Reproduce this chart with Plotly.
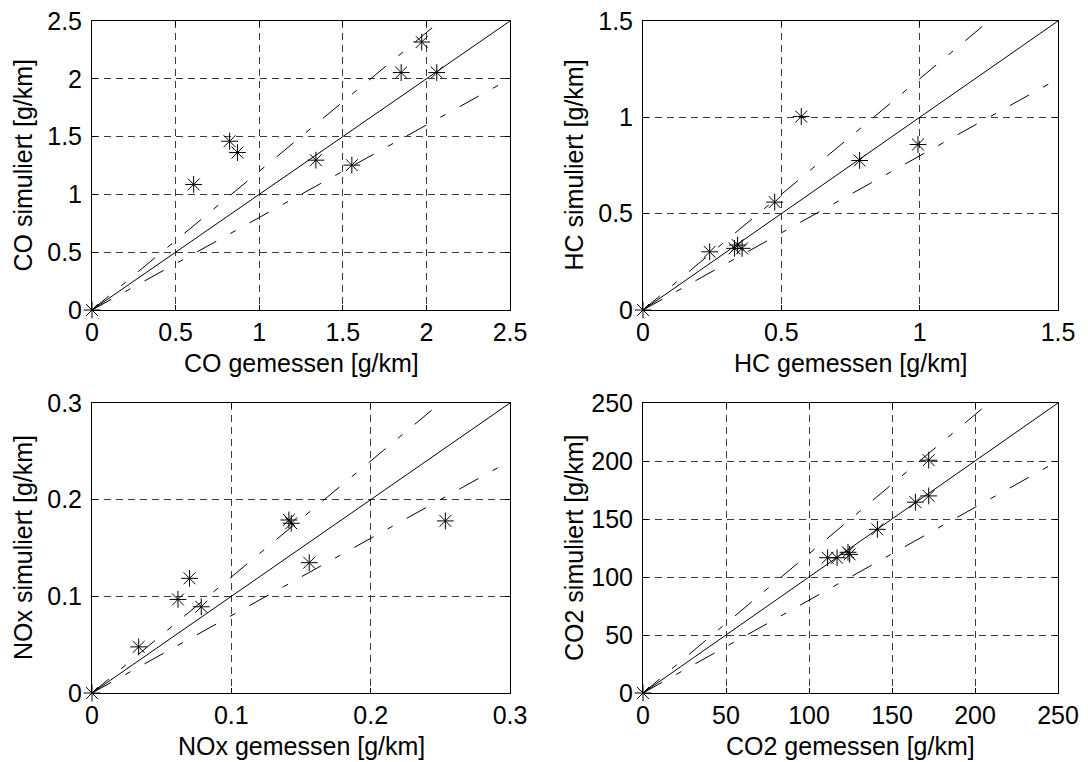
import plotly.graph_objects as go

# ---- data ----
co_meas = [0.0, 0.608, 0.823, 0.870, 1.339, 1.554, 1.849, 1.972, 2.062]
co_sim = [0.0, 1.086, 1.460, 1.362, 1.296, 1.253, 2.054, 2.318, 2.054]

hc_meas = [0.0, 0.241, 0.331, 0.342, 0.358, 0.476, 0.572, 0.783, 0.994]
hc_sim = [0.0, 0.302, 0.320, 0.337, 0.320, 0.560, 1.004, 0.776, 0.859]

nox_meas = [0.0, 0.0335, 0.0617, 0.0700, 0.0784, 0.1413, 0.1430, 0.1559, 0.2536]
nox_sim = [0.0, 0.0477, 0.0968, 0.1186, 0.0892, 0.1790, 0.1756, 0.1348, 0.1780]

co2_meas = [0.0, 111.2, 116.9, 123.5, 124.5, 141.2, 164.1, 172.1, 172.1]
co2_sim = [0.0, 116.6, 116.6, 121.3, 119.5, 141.1, 164.5, 169.9, 200.7]

# reference lines: y = factor * x
factors = [1.0, 1.2, 0.8]

panels = [
    ("CO", co_meas, co_sim, 2.5, [0, 0.5, 1, 1.5, 2, 2.5], ["0", "0.5", "1", "1.5", "2", "2.5"]),
    ("HC", hc_meas, hc_sim, 1.5, [0, 0.5, 1, 1.5], ["0", "0.5", "1", "1.5"]),
    ("NOx", nox_meas, nox_sim, 0.3, [0, 0.1, 0.2, 0.3], ["0", "0.1", "0.2", "0.3"]),
    ("CO2", co2_meas, co2_sim, 250, [0, 50, 100, 150, 200, 250], ["0", "50", "100", "150", "200", "250"]),
]

W, H = 1088, 762
xdom = [[92 / W, 510 / W], [643 / W, 1058 / W]]
ydom = [[1 - 310 / H, 1 - 21 / H], [1 - 693 / H, 1 - 403 / H]]

FONT = "Liberation Sans, Arial, sans-serif"
FS = 25

dd = "22px,16px,6px,16px"
line_styles = {
    1.0: dict(color="black", width=1),
    1.2: dict(color="black", width=1, dash=dd),
    0.8: dict(color="black", width=1, dash=dd),
}

fig = go.Figure()
annotations = []
for i, (name, xm, ys, vmax, tv, tt) in enumerate(panels):
    row, col = divmod(i, 2)
    ax = "" if i == 0 else str(i + 1)
    xa, ya = "x" + ax, "y" + ax
    for f in factors:
        lx = [0, vmax]
        fig.add_trace(go.Scatter(x=lx, y=[f * v for v in lx], mode="lines",
                                 line=line_styles[f], xaxis=xa, yaxis=ya,
                                 showlegend=False, hoverinfo="skip"))
    fig.add_trace(go.Scatter(x=xm, y=ys, mode="markers",
                             marker=dict(symbol="asterisk-open", size=14,
                                         color="black",
                                         line=dict(color="black", width=1)),
                             xaxis=xa, yaxis=ya, showlegend=False,
                             cliponaxis=False))
    common = dict(showline=True, linecolor="black", linewidth=1, mirror="ticks",
                  ticks="inside", ticklen=5, tickcolor="black",
                  showgrid=True, gridcolor="#3a3a3a", griddash="7px,5px",
                  gridwidth=1, zeroline=False, tickmode="array", automargin=False,
                  tickfont=dict(family=FONT, size=FS, color="black"),
                  range=[0, vmax], fixedrange=True)
    fig.layout["xaxis" + ax] = dict(common, domain=xdom[col], anchor=ya,
                                    tickvals=tv, ticktext=tt)
    fig.layout["yaxis" + ax] = dict(common, domain=ydom[row], anchor=xa,
                                    tickvals=tv, ticktext=tt, ticklabelstandoff=4)
    xc = (xdom[col][0] + xdom[col][1]) / 2
    yc = (ydom[row][0] + ydom[row][1]) / 2
    bottom_px = 310 if row == 0 else 693
    annotations.append(dict(text=f"{name} gemessen [g/km]", xref="paper", yref="paper",
                            x=xc, y=1 - (bottom_px + 53) / H, showarrow=False,
                            xanchor="center", yanchor="middle",
                            font=dict(family=FONT, size=FS, color="black")))
    left_px = 23 if col == 0 else 574
    annotations.append(dict(text=f"{name} simuliert [g/km]", xref="paper", yref="paper",
                            x=left_px / W, y=yc, showarrow=False, textangle=-90,
                            xanchor="center", yanchor="middle",
                            font=dict(family=FONT, size=FS, color="black")))

fig.update_layout(width=W, height=H, margin=dict(l=0, r=0, t=0, b=0),
                  paper_bgcolor="white", plot_bgcolor="white", hovermode=False,
                  annotations=annotations, font=dict(family=FONT, size=FS))
fig.write_html("out.html", config={"displayModeBar": False, "staticPlot": True},
               post_script="document.body.style.margin='0';document.body.style.overflow='hidden';")
